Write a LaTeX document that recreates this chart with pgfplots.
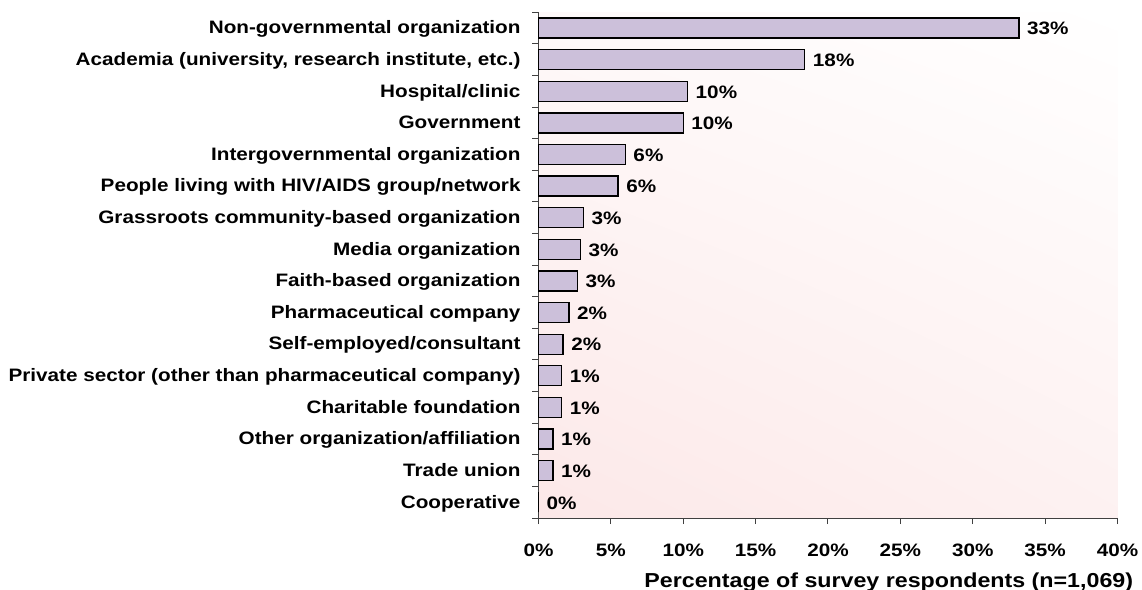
\documentclass[border=0pt]{standalone}
\usepackage{fontspec}
\setmainfont{Liberation Sans}[FakeStretch=1.15]
\usepackage{pgfplots}
\usetikzlibrary{shadings}
\pgfplotsset{compat=1.18}
\definecolor{barfill}{RGB}{204,192,218}
\definecolor{bgpink}{RGB}{252,232,232}
\newcommand{\lbl}{\fontsize{18bp}{21bp}\selectfont\bfseries}
\begin{document}
\begin{tikzpicture}
\lbl
\begin{axis}[
  at={(0,0)}, anchor=south west,
  scale only axis, width=579bp, height=505.7bp,
  xbar, bar width=20bp, bar shift=0pt,
  xmin=0, xmax=40, ymin=-0.5, ymax=15.5, y dir=reverse,
  axis x line=bottom, axis y line=left,
  axis line style={-, black!75, line width=1bp},
  axis background/.style={shade, lower left=bgpink, upper right=white, upper left=bgpink!25, lower right=bgpink!60},
  xtick={0,5,...,40},
  minor xtick={0,5,...,40},
  xticklabels={0\%,5\%,10\%,15\%,20\%,25\%,30\%,35\%,40\%},
  ytick={0,...,15},
  yticklabels={Non-governmental organization,
    {Academia (university, research institute, etc.)},
    Hospital/clinic, Government, Intergovernmental organization,
    People living with HIV/AIDS group/network,
    Grassroots community-based organization, Media organization,
    Faith-based organization, Pharmaceutical company,
    Self-employed/consultant,
    Private sector (other than pharmaceutical company),
    Charitable foundation, Other organization/affiliation,
    Trade union, Cooperative},
  minor ytick={-0.5,0.5,...,15.5},
  tick align=outside,
  major tick length=0pt, minor tick length=6bp,
  tick style={black!75, line width=1bp},
  x tick label style={inner sep=0pt, anchor=base, yshift=-38.7bp, font=\lbl},
  y tick label style={inner sep=0pt, anchor=base east, xshift=-17.8bp, yshift=-5.8bp, font=\lbl},
  xlabel={Percentage of survey respondents (n=1,069)},
  xlabel style={font=\fontsize{20.2bp}{24bp}\selectfont\bfseries, inner sep=0pt,
    at={(axis description cs:0.605,0)}, anchor=base, yshift=-69bp},
  point meta=explicit symbolic,
  nodes near coords={\pgfplotspointmeta},
  nodes near coords style={font=\lbl, anchor=base west, inner sep=0pt, xshift=7.5bp, yshift=-6.8bp},
  clip=false,
]
\addplot[fill=barfill, draw=black, line width=1.3bp] coordinates {
(33.2,0)[33\%]
(18.4,1)[18\%]
(10.3,2)[10\%]
(10.0,3)[10\%]
(6.0,4)[6\%]
(5.5,5)[6\%]
(3.1,6)[3\%]
(2.9,7)[3\%]
(2.7,8)[3\%]
(2.1,9)[2\%]
(1.7,10)[2\%]
(1.6,11)[1\%]
(1.6,12)[1\%]
(1.0,13)[1\%]
(1.0,14)[1\%]
(0,15)[0\%]
};
\end{axis}
\pgfresetboundingbox
\useasboundingbox (-538.5bp,-72bp) rectangle (603.5bp,518bp);
\end{tikzpicture}
\end{document}
